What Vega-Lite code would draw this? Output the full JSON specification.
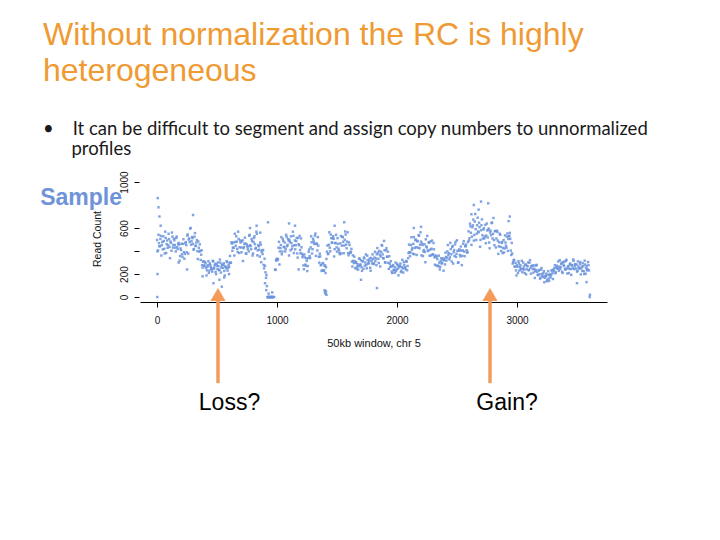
{
 "$schema": "https://vega.github.io/schema/vega-lite/v6.json",
 "width": 467, "height": 127,
 "autosize": {"type": "none"},
 "padding": {"left": 140, "top": 175, "right": 113, "bottom": 238},
 "background": "white",
 "config": {"view": {"stroke": null}, "axis": {"grid": false}},
 "title": {
  "text": ["Without normalization the RC is highly", "heterogeneous"],
  "subtitle": ["•\u00a0\u00a0\u00a0\u00a0It can be difficult to segment and assign copy numbers to unnormalized", "\u200b\u00a0\u00a0\u00a0\u00a0\u00a0\u00a0profiles"],
  "anchor": "start", "frame": "group", "dx": -97, "offset": 11,
  "font": "Liberation Sans", "fontSize": 32, "fontWeight": "normal", "color": "#EF9A33", "lineHeight": 36,
  "subtitleFont": "Lato", "subtitleFontSize": 18.5, "subtitleColor": "#1a1a1a", "subtitleLineHeight": 20, "subtitlePadding": 32
 },
 "datasets": {
  "rc": [
{"x":0,"y":496},{"x":8,"y":406},{"x":16,"y":469},{"x":24,"y":442},{"x":32,"y":532},{"x":40,"y":451},{"x":48,"y":415},{"x":56,"y":487},{"x":64,"y":379},{"x":72,"y":514},{"x":80,"y":460},{"x":88,"y":428},{"x":96,"y":550},
{"x":104,"y":436},{"x":112,"y":482},{"x":120,"y":402},{"x":128,"y":525},{"x":136,"y":453},{"x":144,"y":494},{"x":152,"y":429},{"x":160,"y":513},{"x":168,"y":435},{"x":176,"y":462},{"x":184,"y":456},{"x":192,"y":356},
{"x":200,"y":409},{"x":208,"y":372},{"x":216,"y":462},{"x":224,"y":391},{"x":232,"y":375},{"x":240,"y":477},{"x":248,"y":389},
{"x":256,"y":544},{"x":264,"y":500},{"x":272,"y":478},{"x":280,"y":600},{"x":288,"y":486},{"x":296,"y":512},
{"x":304,"y":412},{"x":312,"y":525},{"x":320,"y":443},{"x":328,"y":474},{"x":336,"y":399},{"x":344,"y":483},{"x":352,"y":395},
{"x":360,"y":402},{"x":368,"y":368},{"x":376,"y":278},{"x":384,"y":307},{"x":392,"y":273},
{"x":400,"y":304},{"x":408,"y":254},{"x":416,"y":232},{"x":424,"y":277},{"x":432,"y":210},{"x":440,"y":293},{"x":448,"y":260},{"x":456,"y":241},{"x":464,"y":315},{"x":472,"y":252},{"x":480,"y":274},{"x":488,"y":219},{"x":496,"y":288},{"x":504,"y":243},{"x":512,"y":268},{"x":520,"y":235},{"x":528,"y":299},{"x":536,"y":257},{"x":544,"y":279},{"x":552,"y":282},{"x":560,"y":227},{"x":568,"y":266},{"x":576,"y":249},{"x":584,"y":304},{"x":592,"y":254},
{"x":600,"y":262},{"x":608,"y":357},{"x":616,"y":299},{"x":624,"y":464},{"x":632,"y":430},
{"x":640,"y":428},{"x":648,"y":550},{"x":656,"y":446},{"x":664,"y":482},{"x":672,"y":392},{"x":680,"y":505},{"x":688,"y":433},{"x":696,"y":474},
{"x":704,"y":389},{"x":712,"y":493},{"x":720,"y":425},{"x":728,"y":462},{"x":736,"y":466},{"x":744,"y":376},{"x":752,"y":439},
{"x":760,"y":442},{"x":768,"y":532},{"x":776,"y":451},{"x":784,"y":415},{"x":792,"y":487},{"x":800,"y":379},{"x":808,"y":514},{"x":816,"y":460},{"x":824,"y":428},{"x":832,"y":550},
{"x":840,"y":406},{"x":848,"y":442},{"x":856,"y":352},{"x":864,"y":455},{"x":872,"y":393},
{"x":880,"y":374},{"x":888,"y":279},{"x":896,"y":333},{"x":904,"y":215},{"x":912,"y":192},
{"x":920,"y":0},{"x":928,"y":0},{"x":936,"y":0},{"x":944,"y":0},{"x":952,"y":0},{"x":960,"y":0},{"x":968,"y":0},{"x":976,"y":0},
{"x":984,"y":240},{"x":992,"y":318},{"x":1000,"y":320},{"x":1008,"y":328},{"x":1016,"y":480},{"x":1024,"y":396},{"x":1032,"y":452},{"x":1040,"y":372},
{"x":1048,"y":505},{"x":1056,"y":433},{"x":1064,"y":474},{"x":1072,"y":419},{"x":1080,"y":523},{"x":1088,"y":455},{"x":1096,"y":492},{"x":1104,"y":496},{"x":1112,"y":406},{"x":1120,"y":469},{"x":1128,"y":442},{"x":1136,"y":532},{"x":1144,"y":451},{"x":1152,"y":415},{"x":1160,"y":487},{"x":1168,"y":379},{"x":1176,"y":514},{"x":1184,"y":450},{"x":1192,"y":408},{"x":1200,"y":510},{"x":1208,"y":376},
{"x":1216,"y":362},{"x":1224,"y":242},{"x":1232,"y":345},{"x":1240,"y":273},{"x":1248,"y":314},{"x":1256,"y":269},{"x":1264,"y":393},{"x":1272,"y":355},
{"x":1280,"y":432},{"x":1288,"y":476},{"x":1296,"y":416},{"x":1304,"y":489},{"x":1312,"y":462},{"x":1320,"y":552},{"x":1328,"y":461},{"x":1336,"y":405},{"x":1344,"y":447},{"x":1352,"y":299},
{"x":1360,"y":353},{"x":1368,"y":280},{"x":1376,"y":231},{"x":1384,"y":295},{"x":1392,"y":232},{"x":1400,"y":274},{"x":1408,"y":259},{"x":1416,"y":395},
{"x":1424,"y":373},{"x":1432,"y":454},{"x":1440,"y":429},{"x":1448,"y":543},{"x":1456,"y":475},{"x":1464,"y":512},{"x":1472,"y":506},{"x":1480,"y":416},{"x":1488,"y":469},{"x":1496,"y":432},{"x":1504,"y":512},{"x":1512,"y":421},{"x":1520,"y":385},{"x":1528,"y":467},{"x":1536,"y":379},{"x":1544,"y":524},{"x":1552,"y":480},{"x":1560,"y":448},{"x":1568,"y":570},{"x":1576,"y":456},{"x":1584,"y":482},{"x":1592,"y":382},{"x":1600,"y":475},{"x":1608,"y":383},{"x":1616,"y":394},{"x":1624,"y":309},
{"x":1632,"y":362},{"x":1640,"y":295},{"x":1648,"y":311},{"x":1656,"y":304},{"x":1664,"y":244},{"x":1672,"y":286},{"x":1680,"y":268},{"x":1688,"y":333},{"x":1696,"y":284},{"x":1704,"y":260},{"x":1712,"y":313},
{"x":1720,"y":246},{"x":1728,"y":336},{"x":1736,"y":300},{"x":1744,"y":279},{"x":1752,"y":360},{"x":1760,"y":291},{"x":1768,"y":315},{"x":1776,"y":255},{"x":1784,"y":340},{"x":1792,"y":292},{"x":1800,"y":329},{"x":1808,"y":293},
{"x":1816,"y":393},{"x":1824,"y":335},{"x":1832,"y":372},{"x":1840,"y":386},{"x":1848,"y":296},{"x":1856,"y":369},{"x":1864,"y":352},{"x":1872,"y":452},{"x":1880,"y":371},{"x":1888,"y":335},{"x":1896,"y":407},{"x":1904,"y":299},{"x":1912,"y":424},{"x":1920,"y":350},{"x":1928,"y":298},{"x":1936,"y":355},
{"x":1944,"y":262},{"x":1952,"y":269},{"x":1960,"y":209},{"x":1968,"y":278},{"x":1976,"y":233},{"x":1984,"y":258},{"x":1992,"y":225},{"x":2000,"y":289},{"x":2008,"y":247},{"x":2016,"y":269},{"x":2024,"y":272},{"x":2032,"y":217},{"x":2040,"y":261},{"x":2048,"y":249},{"x":2056,"y":304},{"x":2064,"y":254},{"x":2072,"y":242},{"x":2080,"y":307},{"x":2088,"y":270},{"x":2096,"y":383},
{"x":2104,"y":390},{"x":2112,"y":388},{"x":2120,"y":520},{"x":2128,"y":426},{"x":2136,"y":462},{"x":2144,"y":372},{"x":2152,"y":495},{"x":2160,"y":433},{"x":2168,"y":484},{"x":2176,"y":429},{"x":2184,"y":533},{"x":2192,"y":455},{"x":2200,"y":482},{"x":2208,"y":466},{"x":2216,"y":356},{"x":2224,"y":409},{"x":2232,"y":392},{"x":2240,"y":502},{"x":2248,"y":431},{"x":2256,"y":405},{"x":2264,"y":477},{"x":2272,"y":359},{"x":2280,"y":484},{"x":2288,"y":420},{"x":2296,"y":368},{"x":2304,"y":470},{"x":2312,"y":346},{"x":2320,"y":362},
{"x":2328,"y":275},{"x":2336,"y":330},{"x":2344,"y":272},{"x":2352,"y":299},{"x":2360,"y":263},{"x":2368,"y":337},{"x":2376,"y":295},{"x":2384,"y":321},{"x":2392,"y":334},{"x":2400,"y":284},{"x":2408,"y":349},{"x":2416,"y":342},
{"x":2424,"y":452},{"x":2432,"y":381},{"x":2440,"y":345},{"x":2448,"y":417},{"x":2456,"y":309},{"x":2464,"y":444},{"x":2472,"y":390},{"x":2480,"y":358},{"x":2488,"y":480},{"x":2496,"y":376},{"x":2504,"y":402},{"x":2512,"y":302},{"x":2520,"y":415},{"x":2528,"y":353},{"x":2536,"y":404},{"x":2544,"y":359},{"x":2552,"y":463},{"x":2560,"y":395},{"x":2568,"y":442},{"x":2576,"y":456},{"x":2584,"y":386},{"x":2592,"y":479},{"x":2600,"y":492},
{"x":2608,"y":638},{"x":2616,"y":559},{"x":2624,"y":525},{"x":2632,"y":623},{"x":2640,"y":491},{"x":2648,"y":656},{"x":2656,"y":590},{"x":2664,"y":551},{"x":2672,"y":690},{"x":2680,"y":563},{"x":2688,"y":608},{"x":2696,"y":497},{"x":2704,"y":625},{"x":2712,"y":537},{"x":2720,"y":587},{"x":2728,"y":510},
{"x":2736,"y":627},{"x":2744,"y":534},{"x":2752,"y":579},{"x":2760,"y":584},{"x":2768,"y":474},{"x":2776,"y":561},{"x":2784,"y":538},{"x":2792,"y":648},{"x":2800,"y":549},{"x":2808,"y":495},{"x":2816,"y":573},{"x":2824,"y":431},{"x":2832,"y":576},{"x":2840,"y":490},{"x":2848,"y":441},
{"x":2856,"y":550},{"x":2864,"y":436},{"x":2872,"y":472},{"x":2880,"y":382},{"x":2888,"y":495},{"x":2896,"y":423},{"x":2904,"y":474},{"x":2912,"y":429},{"x":2920,"y":553},{"x":2928,"y":505},{"x":2936,"y":532},{"x":2944,"y":506},{"x":2952,"y":366},{"x":2960,"y":379},
{"x":2968,"y":302},{"x":2976,"y":324},{"x":2984,"y":264},{"x":2992,"y":232},{"x":3000,"y":277},{"x":3008,"y":210},{"x":3016,"y":293},{"x":3024,"y":260},{"x":3032,"y":241},{"x":3040,"y":315},
{"x":3048,"y":242},{"x":3056,"y":264},{"x":3064,"y":209},{"x":3072,"y":283},{"x":3080,"y":243},{"x":3088,"y":268},{"x":3096,"y":235},{"x":3104,"y":299},{"x":3112,"y":252},{"x":3120,"y":269},{"x":3128,"y":272},{"x":3136,"y":212},{"x":3144,"y":246},{"x":3152,"y":224},{"x":3160,"y":274},{"x":3168,"y":219},{"x":3176,"y":192},{"x":3184,"y":232},{"x":3192,"y":160},{"x":3200,"y":238},{"x":3208,"y":200},
{"x":3216,"y":175},{"x":3224,"y":225},{"x":3232,"y":167},{"x":3240,"y":181},{"x":3248,"y":137},{"x":3256,"y":193},{"x":3264,"y":161},{"x":3272,"y":188},{"x":3280,"y":170},{"x":3288,"y":232},{"x":3296,"y":207},{"x":3304,"y":239},{"x":3312,"y":252},{"x":3320,"y":207},{"x":3328,"y":256},
{"x":3336,"y":249},{"x":3344,"y":309},{"x":3352,"y":264},{"x":3360,"y":242},{"x":3368,"y":287},{"x":3376,"y":220},{"x":3384,"y":303},{"x":3392,"y":270},{"x":3400,"y":246},{"x":3408,"y":315},{"x":3416,"y":247},{"x":3424,"y":264},{"x":3432,"y":209},{"x":3440,"y":283},{"x":3448,"y":243},{"x":3456,"y":278},{"x":3464,"y":250},{"x":3472,"y":314},{"x":3480,"y":267},{"x":3488,"y":284},{"x":3496,"y":282},{"x":3504,"y":227},{"x":3512,"y":266},{"x":3520,"y":249},{"x":3528,"y":304},{"x":3536,"y":249},{"x":3544,"y":227},{"x":3552,"y":267},{"x":3560,"y":200},{"x":3568,"y":283},{"x":3576,"y":250},{"x":3584,"y":231},{"x":3592,"y":305},{"x":3600,"y":232},
{"x":4,"y":397},{"x":12,"y":541},{"x":20,"y":442},{"x":28,"y":505},{"x":36,"y":361},{"x":44,"y":478},{"x":52,"y":528},{"x":60,"y":419},{"x":68,"y":568},{"x":76,"y":383},{"x":84,"y":492},{"x":92,"y":451},{"x":100,"y":504},
{"x":108,"y":338},{"x":116,"y":470},{"x":124,"y":561},{"x":132,"y":430},{"x":140,"y":507},{"x":148,"y":452},{"x":156,"y":397},{"x":164,"y":526},{"x":172,"y":417},{"x":180,"y":470},{"x":188,"y":316},{"x":196,"y":423},
{"x":204,"y":463},{"x":212,"y":349},{"x":220,"y":503},{"x":228,"y":333},{"x":236,"y":467},{"x":244,"y":451},{"x":252,"y":534},{"x":260,"y":378},{"x":268,"y":510},{"x":276,"y":596},{"x":284,"y":455},{"x":292,"y":522},{"x":300,"y":462},
{"x":308,"y":417},{"x":316,"y":556},{"x":324,"y":447},{"x":332,"y":495},{"x":340,"y":331},{"x":348,"y":428},{"x":356,"y":458},{"x":364,"y":322},{"x":372,"y":406},{"x":380,"y":256},{"x":388,"y":311},{"x":396,"y":270},
{"x":404,"y":293},{"x":412,"y":188},{"x":420,"y":263},{"x":428,"y":312},{"x":436,"y":230},{"x":444,"y":277},{"x":452,"y":246},{"x":460,"y":221},{"x":468,"y":310},{"x":476,"y":249},{"x":484,"y":288},{"x":492,"y":199},{"x":500,"y":271},{"x":508,"y":301},{"x":516,"y":235},{"x":524,"y":326},{"x":532,"y":213},{"x":540,"y":279},{"x":548,"y":254},{"x":556,"y":293},{"x":564,"y":188},{"x":572,"y":263},{"x":580,"y":312},{"x":588,"y":230},{"x":596,"y":277},
{"x":604,"y":296},{"x":612,"y":297},{"x":620,"y":476},{"x":628,"y":402},{"x":636,"y":475},
{"x":644,"y":361},{"x":652,"y":478},{"x":660,"y":528},{"x":668,"y":419},{"x":676,"y":568},{"x":684,"y":383},{"x":692,"y":492},{"x":700,"y":431},{"x":708,"y":484},{"x":716,"y":313},{"x":724,"y":435},{"x":732,"y":516},{"x":740,"y":380},{"x":748,"y":457},{"x":756,"y":417},
{"x":764,"y":397},{"x":772,"y":541},{"x":780,"y":442},{"x":788,"y":505},{"x":796,"y":361},{"x":804,"y":478},{"x":812,"y":528},{"x":820,"y":419},{"x":828,"y":568},{"x":836,"y":363},{"x":844,"y":452},{"x":852,"y":411},{"x":860,"y":474},{"x":868,"y":303},{"x":876,"y":405},
{"x":884,"y":409},{"x":892,"y":250},{"x":900,"y":272},{"x":908,"y":167},{"x":916,"y":95},
{"x":988,"y":236},{"x":996,"y":332},{"x":1004,"y":331},{"x":1012,"y":429},{"x":1020,"y":283},{"x":1028,"y":425},{"x":1036,"y":521},{"x":1044,"y":395},
{"x":1052,"y":487},{"x":1060,"y":437},{"x":1068,"y":397},{"x":1076,"y":541},{"x":1084,"y":442},{"x":1092,"y":505},{"x":1100,"y":361},{"x":1108,"y":478},{"x":1116,"y":528},{"x":1124,"y":419},{"x":1132,"y":568},{"x":1140,"y":383},{"x":1148,"y":492},{"x":1156,"y":451},{"x":1164,"y":514},{"x":1172,"y":343},{"x":1180,"y":460},{"x":1188,"y":531},{"x":1196,"y":380},{"x":1204,"y":432},{"x":1212,"y":347},
{"x":1220,"y":275},{"x":1228,"y":370},{"x":1236,"y":282},{"x":1244,"y":336},{"x":1252,"y":226},{"x":1260,"y":338},{"x":1268,"y":413},{"x":1276,"y":339},{"x":1284,"y":528},{"x":1292,"y":378},{"x":1300,"y":507},{"x":1308,"y":471},{"x":1316,"y":534},{"x":1324,"y":358},{"x":1332,"y":465},{"x":1340,"y":521},{"x":1348,"y":350},{"x":1356,"y":377},
{"x":1364,"y":277},{"x":1372,"y":227},{"x":1380,"y":294},{"x":1388,"y":229},{"x":1396,"y":273},{"x":1404,"y":209},{"x":1412,"y":331},{"x":1420,"y":448},
{"x":1428,"y":379},{"x":1436,"y":563},{"x":1444,"y":398},{"x":1452,"y":512},{"x":1460,"y":471},{"x":1468,"y":529},{"x":1476,"y":353},{"x":1484,"y":470},{"x":1492,"y":541},{"x":1500,"y":395},{"x":1508,"y":462},{"x":1516,"y":407},{"x":1524,"y":372},{"x":1532,"y":531},{"x":1540,"y":447},{"x":1548,"y":520},{"x":1556,"y":381},{"x":1564,"y":498},{"x":1572,"y":543},{"x":1580,"y":424},{"x":1588,"y":563},{"x":1596,"y":363},{"x":1604,"y":452},{"x":1612,"y":386},{"x":1620,"y":419},{"x":1628,"y":265},
{"x":1636,"y":315},{"x":1644,"y":351},{"x":1652,"y":252},{"x":1660,"y":298},{"x":1668,"y":265},{"x":1676,"y":239},{"x":1684,"y":335},{"x":1692,"y":276},{"x":1700,"y":319},{"x":1708,"y":228},{"x":1716,"y":310},{"x":1724,"y":344},{"x":1732,"y":273},{"x":1740,"y":370},{"x":1748,"y":250},{"x":1756,"y":321},{"x":1764,"y":294},{"x":1772,"y":335},{"x":1780,"y":229},{"x":1788,"y":315},{"x":1796,"y":371},{"x":1804,"y":287},{"x":1812,"y":343},
{"x":1820,"y":312},{"x":1828,"y":277},{"x":1836,"y":426},{"x":1844,"y":332},{"x":1852,"y":400},{"x":1860,"y":266},{"x":1868,"y":393},{"x":1876,"y":448},{"x":1884,"y":339},{"x":1892,"y":488},{"x":1900,"y":303},{"x":1908,"y":407},{"x":1916,"y":351},{"x":1924,"y":394},{"x":1932,"y":245},{"x":1940,"y":290},
{"x":1948,"y":312},{"x":1956,"y":222},{"x":1964,"y":267},{"x":1972,"y":236},{"x":1980,"y":211},{"x":1988,"y":300},{"x":1996,"y":239},{"x":2004,"y":278},{"x":2012,"y":189},{"x":2020,"y":261},{"x":2028,"y":291},{"x":2036,"y":227},{"x":2044,"y":324},{"x":2052,"y":213},{"x":2060,"y":279},{"x":2068,"y":259},{"x":2076,"y":313},{"x":2084,"y":233},{"x":2092,"y":338},{"x":2100,"y":456},
{"x":2108,"y":355},{"x":2116,"y":452},{"x":2124,"y":412},{"x":2132,"y":377},{"x":2140,"y":521},{"x":2148,"y":427},{"x":2156,"y":500},{"x":2164,"y":366},{"x":2172,"y":488},{"x":2180,"y":538},{"x":2188,"y":424},{"x":2196,"y":563},{"x":2204,"y":363},{"x":2212,"y":452},{"x":2220,"y":396},{"x":2228,"y":459},{"x":2236,"y":303},{"x":2244,"y":440},{"x":2252,"y":531},{"x":2260,"y":400},{"x":2268,"y":472},{"x":2276,"y":412},{"x":2284,"y":362},{"x":2292,"y":491},{"x":2300,"y":372},{"x":2308,"y":415},{"x":2316,"y":281},{"x":2324,"y":348},
{"x":2332,"y":354},{"x":2340,"y":268},{"x":2348,"y":360},{"x":2356,"y":240},{"x":2364,"y":313},{"x":2372,"y":292},{"x":2380,"y":335},{"x":2388,"y":229},{"x":2396,"y":320},{"x":2404,"y":386},{"x":2412,"y":317},{"x":2420,"y":397},
{"x":2428,"y":367},{"x":2436,"y":327},{"x":2444,"y":471},{"x":2452,"y":372},{"x":2460,"y":435},{"x":2468,"y":291},{"x":2476,"y":408},{"x":2484,"y":458},{"x":2492,"y":349},{"x":2500,"y":493},{"x":2508,"y":298},{"x":2516,"y":402},{"x":2524,"y":366},{"x":2532,"y":439},{"x":2540,"y":278},{"x":2548,"y":405},{"x":2556,"y":486},{"x":2564,"y":355},{"x":2572,"y":442},{"x":2580,"y":407},{"x":2588,"y":392},{"x":2596,"y":571},{"x":2604,"y":512},
{"x":2612,"y":615},{"x":2620,"y":454},{"x":2628,"y":607},{"x":2636,"y":673},{"x":2644,"y":540},{"x":2652,"y":722},{"x":2660,"y":496},{"x":2668,"y":624},{"x":2676,"y":569},{"x":2684,"y":646},{"x":2692,"y":437},{"x":2700,"y":581},{"x":2708,"y":675},{"x":2716,"y":509},{"x":2724,"y":598},{"x":2732,"y":527},
{"x":2740,"y":468},{"x":2748,"y":639},{"x":2756,"y":518},{"x":2764,"y":595},{"x":2772,"y":424},{"x":2780,"y":577},{"x":2788,"y":643},{"x":2796,"y":510},{"x":2804,"y":687},{"x":2812,"y":451},{"x":2820,"y":574},{"x":2828,"y":509},{"x":2836,"y":566},{"x":2844,"y":375},{"x":2852,"y":476},
{"x":2860,"y":541},{"x":2868,"y":400},{"x":2876,"y":477},{"x":2884,"y":427},{"x":2892,"y":387},{"x":2900,"y":536},{"x":2908,"y":447},{"x":2916,"y":525},{"x":2924,"y":401},{"x":2932,"y":528},{"x":2940,"y":558},{"x":2948,"y":404},{"x":2956,"y":471},{"x":2964,"y":291},{"x":2972,"y":319},{"x":2980,"y":266},
{"x":2988,"y":298},{"x":2996,"y":188},{"x":3004,"y":263},{"x":3012,"y":312},{"x":3020,"y":230},{"x":3028,"y":277},{"x":3036,"y":246},{"x":3044,"y":216},{"x":3052,"y":300},{"x":3060,"y":239},{"x":3068,"y":280},{"x":3076,"y":197},{"x":3084,"y":271},{"x":3092,"y":301},{"x":3100,"y":233},{"x":3108,"y":321},{"x":3116,"y":203},{"x":3124,"y":269},{"x":3132,"y":242},{"x":3140,"y":275},{"x":3148,"y":166},{"x":3156,"y":235},{"x":3164,"y":280},{"x":3172,"y":192},{"x":3180,"y":235},{"x":3188,"y":198},{"x":3196,"y":169},{"x":3204,"y":252},{"x":3212,"y":184},
{"x":3220,"y":207},{"x":3228,"y":129},{"x":3236,"y":181},{"x":3244,"y":203},{"x":3252,"y":150},{"x":3260,"y":225},{"x":3268,"y":140},{"x":3276,"y":200},{"x":3284,"y":190},{"x":3292,"y":231},{"x":3300,"y":157},{"x":3308,"y":228},{"x":3316,"y":277},{"x":3324,"y":215},{"x":3332,"y":272},
{"x":3340,"y":248},{"x":3348,"y":229},{"x":3356,"y":320},{"x":3364,"y":259},{"x":3372,"y":298},{"x":3380,"y":209},{"x":3388,"y":281},{"x":3396,"y":309},{"x":3404,"y":237},{"x":3412,"y":324},{"x":3420,"y":205},{"x":3428,"y":269},{"x":3436,"y":246},{"x":3444,"y":291},{"x":3452,"y":193},{"x":3460,"y":275},{"x":3468,"y":327},{"x":3476,"y":242},{"x":3484,"y":285},{"x":3492,"y":248},{"x":3500,"y":221},{"x":3508,"y":310},{"x":3516,"y":249},{"x":3524,"y":288},{"x":3532,"y":197},{"x":3540,"y":266},{"x":3548,"y":293},{"x":3556,"y":225},{"x":3564,"y":316},{"x":3572,"y":203},{"x":3580,"y":269},{"x":3588,"y":242},{"x":3596,"y":278},
{"x":2,"y":0},{"x":4,"y":200},{"x":6,"y":860},{"x":12,"y":780},{"x":20,"y":700},{"x":30,"y":620},{"x":180,"y":300},{"x":250,"y":240},{"x":300,"y":713},{"x":380,"y":180},{"x":470,"y":120},{"x":520,"y":150},{"x":540,"y":90},{"x":560,"y":170},{"x":600,"y":200},{"x":775,"y":600},{"x":830,"y":620},{"x":860,"y":560},{"x":900,"y":120},{"x":910,"y":60},{"x":924,"y":0},{"x":932,"y":0},{"x":940,"y":0},{"x":948,"y":0},{"x":956,"y":0},{"x":964,"y":0},{"x":930,"y":30},{"x":960,"y":40},{"x":925,"y":650},{"x":1100,"y":640},{"x":1150,"y":620},{"x":1180,"y":240},{"x":1396,"y":60},{"x":1400,"y":40},{"x":1404,"y":30},{"x":1408,"y":50},{"x":1412,"y":20},{"x":1480,"y":620},{"x":1560,"y":650},{"x":1700,"y":150},{"x":1833,"y":78},{"x":2140,"y":600},{"x":2200,"y":610},{"x":2620,"y":720},{"x":2640,"y":800},{"x":2680,"y":760},{"x":2700,"y":830},{"x":2760,"y":815},{"x":2930,"y":660},{"x":2940,"y":700},{"x":3500,"y":120},{"x":3580,"y":130},{"x":3606,"y":0},{"x":3608,"y":20}
  ],
  "arrows": [{"name":"Loss?","x":508,"bottom":-748,"top":-30,"tip":22},{"name":"Gain?","x":2775,"bottom":-748,"top":-30,"tip":22}],
  "labels": [{"text":"Loss?","x":604,"y":-922},{"text":"Gain?","x":2917,"y":-922}],
  "sample": [{"text":"Sample","x":-292,"y":800}]
 },
 "layer": [
  {
   "data": {"name": "rc"},
   "mark": {"type": "square", "size": 6, "color": "#6a93dc", "opacity": 0.85},
   "encoding": {
    "x": {"field": "x", "type": "quantitative", "scale": {"domain": [-142, 3750], "nice": false, "zero": false},
     "axis": {"values": [0, 1000, 2000, 3000], "tickCount": 20, "format": "d", "title": "50kb window, chr 5", "domainColor": "black", "tickColor": "black", "tickSize": 5, "labelFont": "Liberation Sans", "labelFontSize": 10, "labelColor": "#111", "labelPadding": 8, "labelFlush": false, "labelOverlap": false, "titleFont": "Liberation Sans", "titleFontSize": 11, "titleFontWeight": "normal", "titleColor": "#111", "titlePadding": 12}},
    "y": {"field": "y", "type": "quantitative", "scale": {"domain": [-43, 1061], "nice": false, "zero": false},
     "axis": {"values": [0, 200, 400, 600, 1000], "tickCount": 20, "format": "d", "labelExpr": "datum.value == 400 ? '' : datum.label", "domain": false, "tickColor": "black", "tickSize": 5, "offset": 1, "labelAngle": -90, "labelAlign": "center", "labelBaseline": "bottom", "labelPadding": 5, "labelOverlap": false, "labelFont": "Liberation Sans", "labelFontSize": 10, "labelColor": "#111", "title": "Read Count", "titleFont": "Liberation Sans", "titleFontSize": 10.5, "titleFontWeight": "normal", "titleColor": "#111", "titlePadding": 17}}
   }
  },
  {
   "data": {"name": "arrows"},
   "mark": {"type": "rule", "color": "#F39C5A", "strokeWidth": 3.5},
   "encoding": {
    "x": {"field": "x", "type": "quantitative", "scale": {"domain": [-142, 3750], "nice": false, "zero": false}},
    "y": {"field": "bottom", "type": "quantitative", "scale": {"domain": [-43, 1061], "nice": false, "zero": false}},
    "y2": {"field": "top"}
   }
  },
  {
   "data": {"name": "arrows"},
   "mark": {"type": "point", "shape": "triangle-up", "size": 230, "filled": true, "color": "#F39C5A", "opacity": 1},
   "encoding": {
    "x": {"field": "x", "type": "quantitative", "scale": {"domain": [-142, 3750], "nice": false, "zero": false}},
    "y": {"field": "tip", "type": "quantitative", "scale": {"domain": [-43, 1061], "nice": false, "zero": false}}
   }
  },
  {
   "data": {"name": "labels"},
   "mark": {"type": "text", "font": "Liberation Sans", "fontSize": 23, "color": "#000", "align": "center", "baseline": "middle"},
   "encoding": {
    "x": {"field": "x", "type": "quantitative", "scale": {"domain": [-142, 3750], "nice": false, "zero": false}},
    "y": {"field": "y", "type": "quantitative", "scale": {"domain": [-43, 1061], "nice": false, "zero": false}},
    "text": {"field": "text"}
   }
  },
  {
   "data": {"name": "sample"},
   "mark": {"type": "text", "font": "Liberation Sans", "fontSize": 23, "fontWeight": "bold", "color": "#6F93D8", "align": "right", "baseline": "alphabetic"},
   "encoding": {
    "x": {"field": "x", "type": "quantitative", "scale": {"domain": [-142, 3750], "nice": false, "zero": false}},
    "y": {"field": "y", "type": "quantitative", "scale": {"domain": [-43, 1061], "nice": false, "zero": false}},
    "text": {"field": "text"}
   }
  }
 ]
}
